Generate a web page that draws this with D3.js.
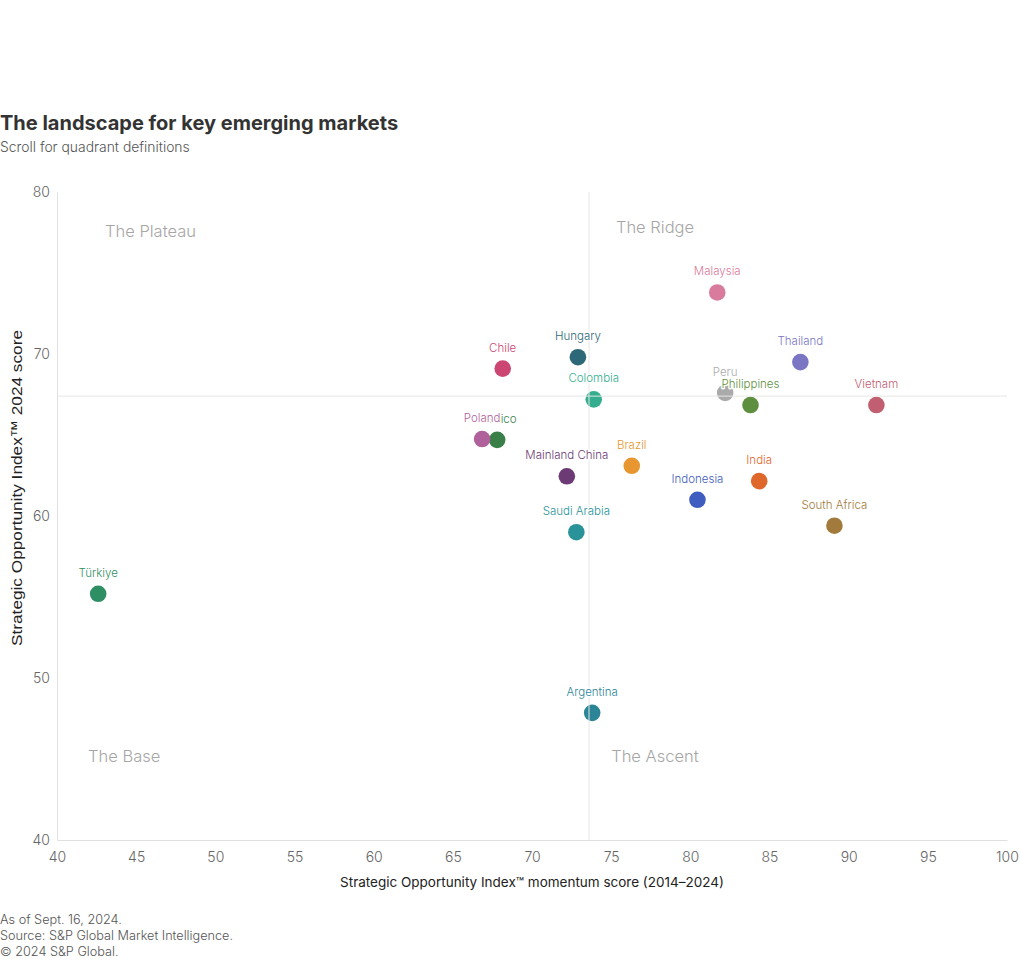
<!DOCTYPE html>
<html>
<head>
<meta charset="utf-8">
<script src="https://cdn.jsdelivr.net/npm/d3@7"></script>
<style>
  html, body { margin: 0; padding: 0; background: #fff; }
  svg { display: block; font-family: Inter, "Noto Sans", sans-serif; }
</style>
</head>
<body>
<svg id="chart" width="1020" height="960"></svg>
<script>
// ---- Data ----
const countries = ["Türkiye","Argentina","Saudi Arabia","Mainland China","Mexico","Poland","Chile","Hungary","Colombia","Brazil","Indonesia","India","South Africa","Peru","Philippines","Vietnam","Thailand","Malaysia"];
const momentum  = [42.6, 73.8, 72.8, 72.2, 67.8, 66.85, 68.15, 72.9, 73.9, 76.3, 80.45, 84.35, 89.1, 82.2, 83.8, 91.75, 86.95, 81.7];
const score2024 = [55.2, 47.85, 59.0, 62.45, 64.7, 64.75, 69.1, 69.8, 67.2, 63.1, 61.0, 62.15, 59.4, 67.6, 66.85, 66.85, 69.5, 73.8];
const colors    = ["#2f8f64","#2b8597","#2a9399","#6c3a74","#3a7f48","#b0619c","#cb4672","#2c6878","#34ae8e","#e8962f","#3f5cc0","#e0672c","#a27a3c","#aaaaaa","#5e8f3e","#c15e6f","#7a76c4","#d97b9c"];
const xTicks = [40,45,50,55,60,65,70,75,80,85,90,95,100];
const yTicks = [40,50,60,70,80];
const xDomain = [40, 100];
const yDomain = [40, 80];
const xDivider = 73.6;
const yDivider = 67.4;
const quadrants = ["The Plateau","The Ridge","The Base","The Ascent"];
const quadrantPos = [[43.03, 77.2], [75.3, 77.45], [41.96, 44.8], [75.0, 44.8]];
const footer = ["As of Sept. 16, 2024.", "Source: S&P Global Market Intelligence.", "© 2024 S&P Global."];

const data = countries.map((c, i) => ({name: c, x: momentum[i], y: score2024[i], color: colors[i]}));

// ---- Layout ----
const svg = d3.select("#chart");
const pLeft = 57, pRight = 1007, pTop = 192, pBottom = 840;
const x = d3.scaleLinear().domain(xDomain).range([pLeft, pRight]);
const y = d3.scaleLinear().domain(yDomain).range([pBottom, pTop]);

// Title
svg.append("text").attr("x", 0).attr("y", 130)
  .attr("font-size", 20).attr("font-weight", 700).attr("fill", "#333")
  .text("The landscape for key emerging markets");
svg.append("text").attr("x", 0).attr("y", 152)
  .attr("font-size", 13.9).attr("font-weight", 300).attr("fill", "#555")
  .text("Scroll for quadrant definitions");

// Axes
const xAxis = svg.append("g").attr("transform", `translate(0,${pBottom})`)
  .call(d3.axisBottom(x).tickValues(xTicks).tickSize(0).tickPadding(12));
const yAxis = svg.append("g").attr("transform", `translate(${pLeft},0)`)
  .call(d3.axisLeft(y).tickValues(yTicks).tickSize(0).tickPadding(7));
[xAxis, yAxis].forEach(g => {
  g.select(".domain").attr("stroke", "#e0e0e0");
  g.selectAll(".tick text").attr("font-family", "Inter, sans-serif").attr("font-size", 14)
    .attr("font-weight", 300).attr("fill", "#666");
});

// Quadrant labels
svg.append("g").selectAll("text").data(quadrants).join("text")
  .attr("x", (d, i) => x(quadrantPos[i][0]))
  .attr("y", (d, i) => y(quadrantPos[i][1]))
  .attr("font-size", 16.5).attr("font-weight", 300).attr("fill", "#a6a6a6")
  .text(d => d);

// Dots
svg.append("g").selectAll("circle").data(data).join("circle")
  .attr("cx", d => x(d.x)).attr("cy", d => y(d.y)).attr("r", 8.3)
  .attr("fill", d => d.color);

// Divider lines (drawn over dots)
svg.append("line").attr("x1", x(xDivider)).attr("x2", x(xDivider))
  .attr("y1", pTop).attr("y2", pBottom).attr("stroke", "#e6e6e6").attr("stroke-width", 1);
svg.append("line").attr("x1", pLeft).attr("x2", pRight)
  .attr("y1", y(yDivider)).attr("y2", y(yDivider)).attr("stroke", "#e6e6e6").attr("stroke-width", 1);

// Labels with halo
svg.append("g").selectAll("text").data(data).join("text")
  .attr("x", d => x(d.x)).attr("y", d => y(d.y) - 17)
  .attr("text-anchor", "middle").attr("font-size", 11.5).attr("font-weight", 300)
  .attr("fill", d => d.color)
  .attr("stroke", "#fff").attr("stroke-width", 3).attr("paint-order", "stroke")
  .attr("stroke-linejoin", "round")
  .text(d => d.name);

// Axis titles
svg.append("text").attr("x", (pLeft + pRight) / 2).attr("y", 887)
  .attr("text-anchor", "middle").attr("font-size", 13.5).attr("fill", "#222")
  .text("Strategic Opportunity Index™ momentum score (2014–2024)");
svg.append("text").attr("transform", "translate(22,488) rotate(-90)")
  .attr("text-anchor", "middle").attr("font-family", "'Liberation Sans', Arial, sans-serif")
  .attr("font-size", 15.5).attr("fill", "#222")
  .attr("textLength", 316).attr("lengthAdjust", "spacingAndGlyphs")
  .text("Strategic Opportunity Index™ 2024 score");

// Footer
svg.append("g").selectAll("text").data(footer).join("text")
  .attr("x", 0).attr("y", (d, i) => 924 + i * 16)
  .attr("font-size", 12.7).attr("font-weight", 300).attr("fill", "#555")
  .text(d => d);
</script>
</body>
</html>
